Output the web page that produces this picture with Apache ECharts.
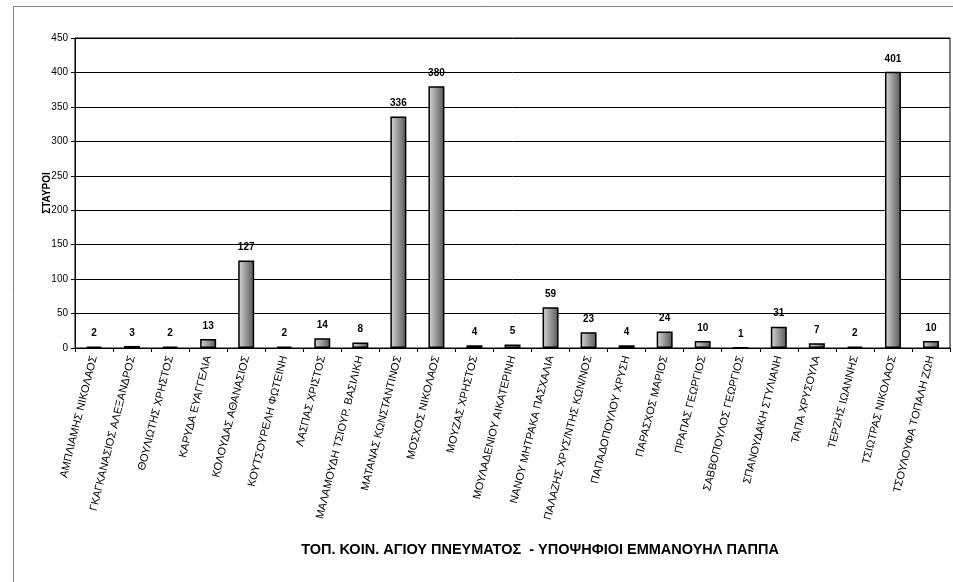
<!DOCTYPE html>
<html>
<head>
<meta charset="utf-8">
<script src="https://cdn.jsdelivr.net/npm/echarts@6/dist/echarts.min.js"></script>
<style>
  html, body { margin: 0; padding: 0; background: #fff; }
  #chart { width: 953px; height: 582px; }
</style>
</head>
<body>
<div id="chart"></div>
<script>
// υποψήφιοι
var candidates = [
  'ΑΜΠΛΙΑΜΗΣ ΝΙΚΟΛΑΟΣ', 'ΓΚΑΓΚΑΝΑΣΙΟΣ ΑΛΕΞΑΝΔΡΟΣ', 'ΘΟΥΛΙΩΤΗΣ ΧΡΗΣΤΟΣ', 'ΚΑΡΥΔΑ ΕΥΑΓΓΕΛΙΑ',
  'ΚΟΛΟΥΔΑΣ ΑΘΑΝΑΣΙΟΣ', 'ΚΟΥΤΣΟΥΡΕΛΗ ΦΩΤΕΙΝΗ', 'ΛΑΣΠΑΣ ΧΡΙΣΤΟΣ', 'ΜΑΛΑΜΟΥΔΗ ΤΣΙΟΥΡ. ΒΑΣΙΛΙΚΗ',
  'ΜΑΤΑΝΑΣ ΚΩΝΣΤΑΝΤΙΝΟΣ', 'ΜΟΣΧΟΣ ΝΙΚΟΛΑΟΣ', 'ΜΟΥΖΑΣ ΧΡΗΣΤΟΣ', 'ΜΟΥΛΑΔΕΝΙΟΥ ΑΙΚΑΤΕΡΙΝΗ',
  'ΝΑΝΟΥ ΜΗΤΡΑΚΑ ΠΑΣΧΑΛΙΑ', 'ΠΑΛΑΖΗΣ ΧΡΥΣ/ΝΤΗΣ ΚΩΝ/ΝΟΣ', 'ΠΑΠΑΔΟΠΟΥΛΟΥ ΧΡΥΣΗ', 'ΠΑΡΑΣΧΟΣ ΜΑΡΙΟΣ',
  'ΠΡΑΠΑΣ ΓΕΩΡΓΙΟΣ', 'ΣΑΒΒΟΠΟΥΛΟΣ ΓΕΩΡΓΙΟΣ', 'ΣΠΑΝΟΥΔΑΚΗ ΣΤΥΛΙΑΝΗ', 'ΤΑΠΑ ΧΡΥΣΟΥΛΑ',
  'ΤΕΡΖΗΣ ΙΩΑΝΝΗΣ', 'ΤΣΙΩΤΡΑΣ ΝΙΚΟΛΑΟΣ', 'ΤΣΟΥΛΟΥΦΑ ΤΟΠΑΛΗ ΖΩΗ'
]
// σταυροί
var votes = [2, 3, 2, 13, 127, 2, 14, 8, 336, 380, 4, 5, 59, 23, 4, 24, 10, 1, 31, 7, 2, 401, 10]

var chartTitle = 'ΤΟΠ. ΚΟΙΝ. ΑΓΙΟΥ ΠΝΕΥΜΑΤΟΣ  - ΥΠΟΨΗΦΙΟΙ ΕΜΜΑΝΟΥΗΛ ΠΑΠΠΑ'
var yName = 'ΣΤΑΥΡΟΙ'
var yMax = 450
var yStep = 50

var chart = echarts.init(document.getElementById('chart'))

chart.setOption({
  animation: false,
  textStyle: { fontFamily: 'Liberation Sans, Arial, sans-serif' },
  // εξωτερικό πλαίσιο
  graphic: [{
    type: 'rect',
    shape: { x: 13.5, y: 6.5, width: 960, height: 600 },
    style: { fill: null, stroke: '#808080', lineWidth: 1 },
    silent: true
  }],
  title: {
    text: chartTitle,
    left: 535,
    top: 537,
    textAlign: 'center',
    textStyle: { fontSize: 14.5, fontWeight: 'bold', color: '#000', fontFamily: 'Liberation Sans, Arial, sans-serif' }
  },
  grid: {
    left: 75,
    right: 3,
    top: 38,
    bottom: 234,
    show: true,
    borderColor: '#000',
    borderWidth: 1
  },
  xAxis: {
    type: 'category',
    data: candidates,
    axisLine: { lineStyle: { color: '#000', width: 1 } },
    axisTick: { show: true, length: 4, lineStyle: { color: '#000' } },
    axisLabel: {
      interval: 0,
      rotate: 76,
      margin: 8,
      fontSize: 11,
      color: '#000'
    }
  },
  yAxis: {
    type: 'value',
    min: 0,
    max: yMax,
    interval: yStep,
    name: yName,
    nameLocation: 'middle',
    nameGap: 23,
    nameMoveOverlap: false,
    nameTextStyle: { fontSize: 10, fontWeight: 'bold', color: '#000' },
    axisLine: { show: true, lineStyle: { color: '#000', width: 1 } },
    axisTick: { show: true, length: 4, lineStyle: { color: '#000' } },
    axisLabel: { fontSize: 10, color: '#000', margin: 7 },
    splitLine: { show: true, lineStyle: { color: '#000', width: 1 } }
  },
  series: [{
    type: 'bar',
    data: votes,
    barWidth: '42%',
    itemStyle: {
      color: new echarts.graphic.LinearGradient(0, 0, 1, 0, [
        { offset: 0, color: '#d8d8d8' },
        { offset: 1, color: '#555555' }
      ]),
      borderColor: '#000',
      borderWidth: 1.5
    },
    label: {
      show: true,
      position: 'top',
      distance: 8,
      fontSize: 10,
      fontWeight: 'bold',
      color: '#000'
    }
  }]
})
</script>
</body>
</html>
